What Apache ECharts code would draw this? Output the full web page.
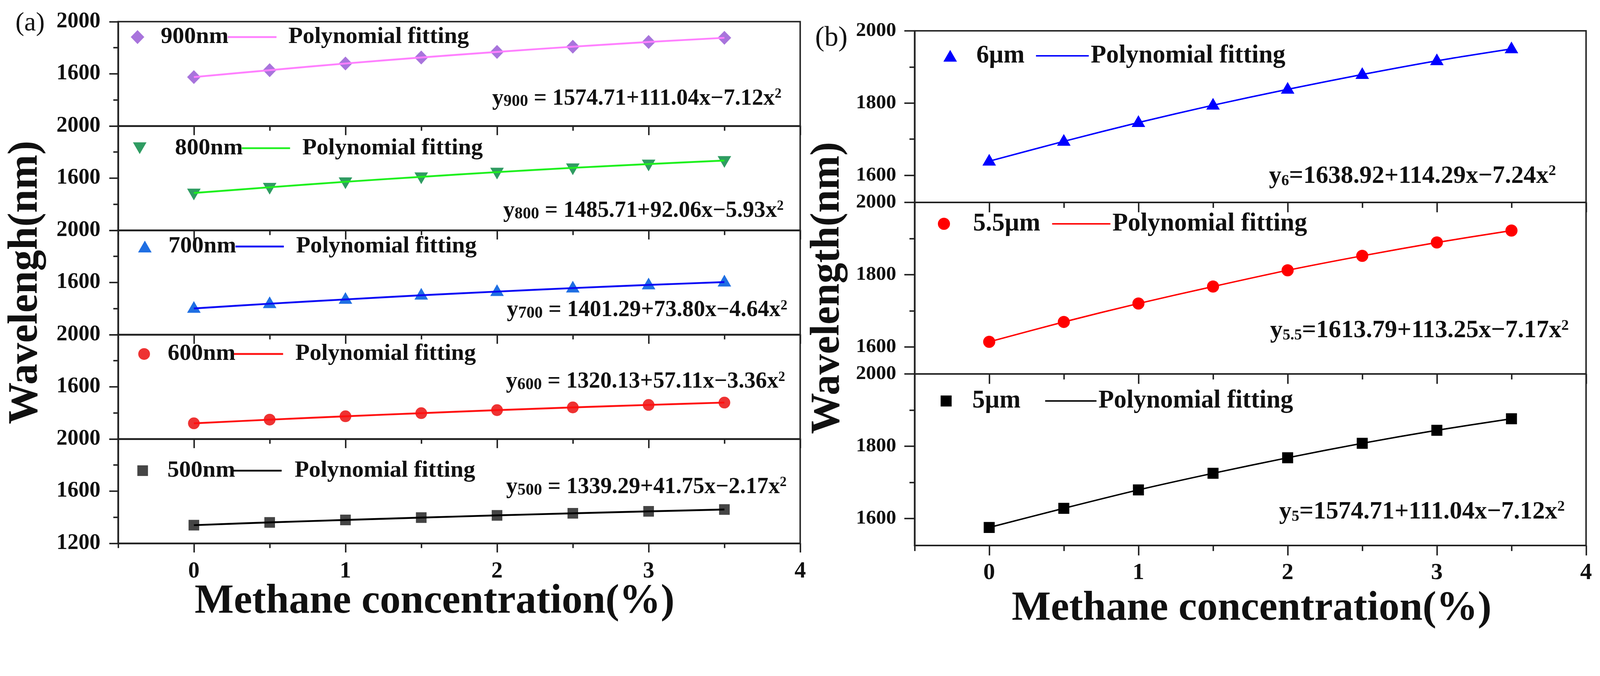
<!DOCTYPE html>
<html>
<head>
<meta charset="utf-8">
<script src="https://cdn.jsdelivr.net/npm/echarts@6/dist/echarts.min.js"></script>
<style>html,body{margin:0;padding:0;background:#fff;overflow:hidden}#c{position:absolute;left:0;top:0}</style>
</head>
<body>
<div id="c"></div>
<script>
// ---------------- data ----------------
const conc = [0, 0.5, 1, 1.5, 2, 2.5, 3, 3.5];
const w900 = [1575, 1628, 1679, 1725, 1768, 1808, 1844, 1876];
const w800 = [1486, 1530, 1572, 1610, 1646, 1679, 1708, 1735];
const w700 = [1401, 1437, 1470, 1502, 1530, 1557, 1581, 1603];
const w600 = [1320, 1348, 1374, 1398, 1421, 1442, 1461, 1479];
const w500 = [1339, 1360, 1379, 1397, 1414, 1430, 1445, 1459];
const w6um = [1639, 1694, 1746, 1794, 1838, 1879, 1917, 1950];
const w55um = [1614, 1669, 1720, 1767, 1812, 1852, 1889, 1922];
const w5um = [1575, 1628, 1679, 1725, 1768, 1808, 1844, 1876];

const namesA = ['900nm', '800nm', '700nm', '600nm', '500nm'];
const namesB = ['6\u00b5m', '5.5\u00b5m', '5\u00b5m'];
const fitName = 'Polynomial fitting';
const xMajorTicks = [0, 1, 2, 3, 4];
const xMinorTicks = [-0.5, 0.5, 1.5, 2.5, 3.5];
const yMajorB = [1600, 1800, 2000];
const yMinorB = [1700, 1900];
const eqSubA = ['900', '800', '700', '600', '500'];
const eqBodyA = [' = 1574.71+111.04x\u22127.12x', ' = 1485.71+92.06x\u22125.93x', ' = 1401.29+73.80x\u22124.64x',
                 ' = 1320.13+57.11x\u22123.36x', ' = 1339.29+41.75x\u22122.17x'];
const eqSubB = ['6', '5.5', '5'];
const eqBodyB = ['=1638.92+114.29x\u22127.24x', '=1613.79+113.25x\u22127.17x', '=1574.71+111.04x\u22127.12x'];

// ---------------- layout / style (reference pixels, scaled to the viewport) ----------------
const REF_W = 4363, REF_H = 1730;
const S = Math.min(window.innerWidth / REF_W, window.innerHeight / REF_H);
const p = v => v * S;
const el = document.getElementById('c');
el.style.width = (REF_W * S) + 'px';
el.style.height = (REF_H * S) + 'px';

const FONT = "'Liberation Serif','Times New Roman',serif";
const AXC = '#222';
const A = { left: 322, top: 59, width: 1860, ph: 284.4 };
const B = { left: 2494, top: 84, width: 1831, ph: 467.7 };
const DOWN_TRI = 'path://M0,0L10,0L5,8.6Z';

const styleA = [
  { data: w900, sym: 'diamond', size: [37, 38], rot: 0, off: [0, 0], mc: '#a874dc', lc: '#ff80ff', lg: [375, 101, 438, 621, 754, 786], eq: [2131, 290] },
  { data: w800, sym: 'triangle', legIcon: DOWN_TRI, size: [37, 32], rot: 180, off: [0, 4], mc: '#2f9c62', lc: '#1ef01e', lg: [381, 404, 477, 659, 791, 824], eq: [2137, 596] },
  { data: w700, sym: 'triangle', size: [37, 32], rot: 0, off: [0, -4], mc: '#1f6fe3', lc: '#0a0af5', lg: [395, 672, 459, 642, 774, 807], eq: [2147, 867] },
  { data: w600, sym: 'circle', size: [32, 32], rot: 0, off: [0, 0], mc: '#ee3232', lc: '#ff1010', lg: [393, 965, 457, 638, 772, 805], eq: [2141, 1062] },
  { data: w500, sym: 'rect', size: [29, 29], rot: 0, off: [0, 0], mc: '#454545', lc: '#000000', lg: [389, 1283, 456, 635, 768, 803], eq: [2145, 1349] }
];
const styleB = [
  { data: w6um, sym: 'triangle', size: [37, 32], rot: 0, off: [0, -4], mc: '#0000ff', lc: '#0000ff', lg: [2591, 152, 2662, 2825, 2969, 2972], eq: [4243, 504] },
  { data: w55um, sym: 'circle', size: [33, 33], rot: 0, off: [0, 0], mc: '#ff0000', lc: '#ff0000', lg: [2574, 610, 2653, 2869, 3028, 3030], eq: [4278, 925] },
  { data: w5um, sym: 'rect', size: [30, 30], rot: 0, off: [0, 0], mc: '#000000', lc: '#000000', lg: [2580, 1093, 2651, 2850, 2990, 2994], eq: [4267, 1419] }
];

function pts(vals) { return conc.map((x, i) => [x, vals[i]]); }
const noComma = v => String(v);

const grid = [], xAxis = [], yAxis = [], series = [], legend = [], graphic = [];

function addPanel(P, idx, n, st, name, isA) {
  const gi = grid.length;
  const last = idx === n - 1;
  const LW = p(4);
  grid.push({ left: p(P.left), top: p(P.top + idx * P.ph), width: p(P.width), height: p(P.ph),
    show: true, borderColor: AXC, borderWidth: LW, backgroundColor: 'transparent' });
  const xFs = p(isA ? 62 : 64);
  const xi = xAxis.length;
  xAxis.push({ type: 'value', gridIndex: gi, min: -0.5, max: 4, position: 'bottom',
    axisLine: { show: true, onZero: false, lineStyle: { color: AXC, width: LW } },
    axisTick: { show: true, customValues: xMajorTicks, length: p(isA ? 25 : 27), lineStyle: { color: AXC, width: LW } },
    axisLabel: { show: last, customValues: xMajorTicks, formatter: noComma, margin: p(isA ? 46 : 43), fontSize: xFs, fontFamily: FONT, fontWeight: 'bold', color: '#111' },
    splitLine: { show: false } });
  xAxis.push({ type: 'value', gridIndex: gi, min: -0.5, max: 4, position: 'bottom',
    axisLine: { show: false, onZero: false },
    axisTick: { show: true, customValues: xMinorTicks, length: p(isA ? 13 : 15), lineStyle: { color: AXC, width: LW } },
    axisLabel: { show: false }, splitLine: { show: false } });
  const yi = yAxis.length;
  if (isA) {
    yAxis.push({ type: 'value', gridIndex: gi, min: 1200, max: 2000, interval: 400, position: 'left',
      axisLine: { show: true, onZero: false, lineStyle: { color: AXC, width: LW } },
      axisTick: { show: true, length: p(24), lineStyle: { color: AXC, width: LW } },
      minorTick: { show: true, splitNumber: 2, length: p(13), lineStyle: { color: AXC, width: LW } },
      axisLabel: { showMinLabel: last, showMaxLabel: true, formatter: noComma, margin: p(48), fontSize: p(60), fontFamily: FONT, fontWeight: 'bold', color: '#111' },
      splitLine: { show: false }, minorSplitLine: { show: false } });
  } else {
    yAxis.push({ type: 'value', gridIndex: gi, min: 1525, max: 2000, position: 'left',
      axisLine: { show: true, onZero: false, lineStyle: { color: AXC, width: LW } },
      axisTick: { show: true, customValues: yMajorB, length: p(28), lineStyle: { color: AXC, width: LW } },
      axisLabel: { customValues: yMajorB, formatter: noComma, margin: p(50), fontSize: p(55), fontFamily: FONT, fontWeight: 'bold', color: '#111' },
      splitLine: { show: false } });
    yAxis.push({ type: 'value', gridIndex: gi, min: 1525, max: 2000, position: 'left',
      axisLine: { show: false, onZero: false },
      axisTick: { show: true, customValues: yMinorB, length: p(14), lineStyle: { color: AXC, width: LW } },
      axisLabel: { show: false }, splitLine: { show: false } });
  }
  const lineName = fitName + ' (' + name + ')';
  const lw = isA ? 5 : 4;
  series.push({ type: 'scatter', name: name, xAxisIndex: xi, yAxisIndex: yi, data: pts(st.data),
    symbol: st.sym, symbolSize: [p(st.size[0]), p(st.size[1])], symbolRotate: st.rot, symbolOffset: [p(st.off[0]), p(st.off[1])],
    itemStyle: { color: st.mc, opacity: 1 }, z: 2 });
  series.push({ type: 'line', name: lineName, xAxisIndex: xi, yAxisIndex: yi, data: pts(st.data),
    smooth: 0.3, symbol: 'none', showSymbol: false,
    lineStyle: { color: st.lc, width: p(lw) }, itemStyle: { color: st.lc }, z: 3 });

  const fs = isA ? 64 : 69;
  const [mx, my, tx, lx1, lx2, px] = st.lg;
  const [msw, msh] = st.size;
  const ts = { fontFamily: FONT, fontWeight: 'bold', fontSize: p(fs), lineHeight: p(fs), color: '#111' };
  const markerItem = st.legIcon ? { name: name, icon: st.legIcon } : name;
  legend.push({ data: [markerItem], left: p(mx - msw / 2), top: p(my - fs / 2), padding: 0, itemGap: 0,
    itemWidth: p(msw), itemHeight: p(msh), selectedMode: false,
    textStyle: Object.assign({}, ts, { padding: [0, 0, 0, p(Math.max(0, tx - (mx + msw / 2 + 5)))] }) });
  legend.push({ data: [{ name: lineName, icon: 'rect', itemStyle: { color: st.lc } }], left: p(lx1), top: p(my - fs / 2), padding: 0, itemGap: 0,
    itemWidth: p(lx2 - lx1), itemHeight: p(lw), selectedMode: false,
    formatter: () => fitName,
    textStyle: Object.assign({}, ts, { padding: [0, 0, 0, p(Math.max(0, px - (lx2 + 5)))] }) });

  const efs = isA ? 62 : 68;
  const sub = isA ? eqSubA[idx] : eqSubB[idx];
  const body = isA ? eqBodyA[idx] : eqBodyB[idx];
  const subFs = efs * (isA ? 0.72 : 0.62);
  const supFs = efs * 0.6;
  const base = { fontFamily: FONT, fontWeight: 'bold', fill: '#111' };
  graphic.push({ type: 'text', x: p(st.eq[0]), y: p(st.eq[1] - 0.34 * efs), z: 10,
    style: { text: '{m|y}{s|' + sub + '}{m|' + body + '}{p|2}', align: 'right', verticalAlign: 'middle',
      rich: {
        m: Object.assign({ fontSize: p(efs), lineHeight: p(efs) }, base),
        s: Object.assign({ fontSize: p(subFs), lineHeight: p(efs * (isA ? 0.4 : 0.3)), verticalAlign: 'bottom' }, base),
        p: Object.assign({ fontSize: p(supFs), lineHeight: p(efs * 0.6), verticalAlign: 'top' }, base)
      } } });
}

styleA.forEach((st, i) => addPanel(A, i, styleA.length, st, namesA[i], true));
styleB.forEach((st, i) => addPanel(B, i, styleB.length, st, namesB[i], false));

function txt(t, x, y, fs, weight, opts) {
  graphic.push(Object.assign({ type: 'text', x: p(x), y: p(y), z: 10,
    style: { text: t, fontFamily: FONT, fontWeight: weight, fontSize: p(fs), fill: '#111', align: 'center', verticalAlign: 'middle' } }, opts || {}));
}
txt('Wavelengh(nm)', 71, 770, 114, 'bold', { rotation: Math.PI / 2 });
txt('Wavelength(nm)', 2258, 785, 112, 'bold', { rotation: Math.PI / 2 });
txt('Methane concentration(%)', 1185, 1679 - 0.34 * 113, 113, 'bold');
txt('Methane concentration(%)', 3413, 1699 - 0.34 * 113, 113, 'bold');
txt('(a)', 82, 64, 72, 'normal');
txt('(b)', 2267, 105, 76, 'normal');

const chart = echarts.init(el, null, { renderer: 'canvas' });
chart.setOption({
  animation: false,
  backgroundColor: '#ffffff',
  grid: grid, xAxis: xAxis, yAxis: yAxis, series: series, legend: legend, graphic: graphic
});
</script>
</body>
</html>
